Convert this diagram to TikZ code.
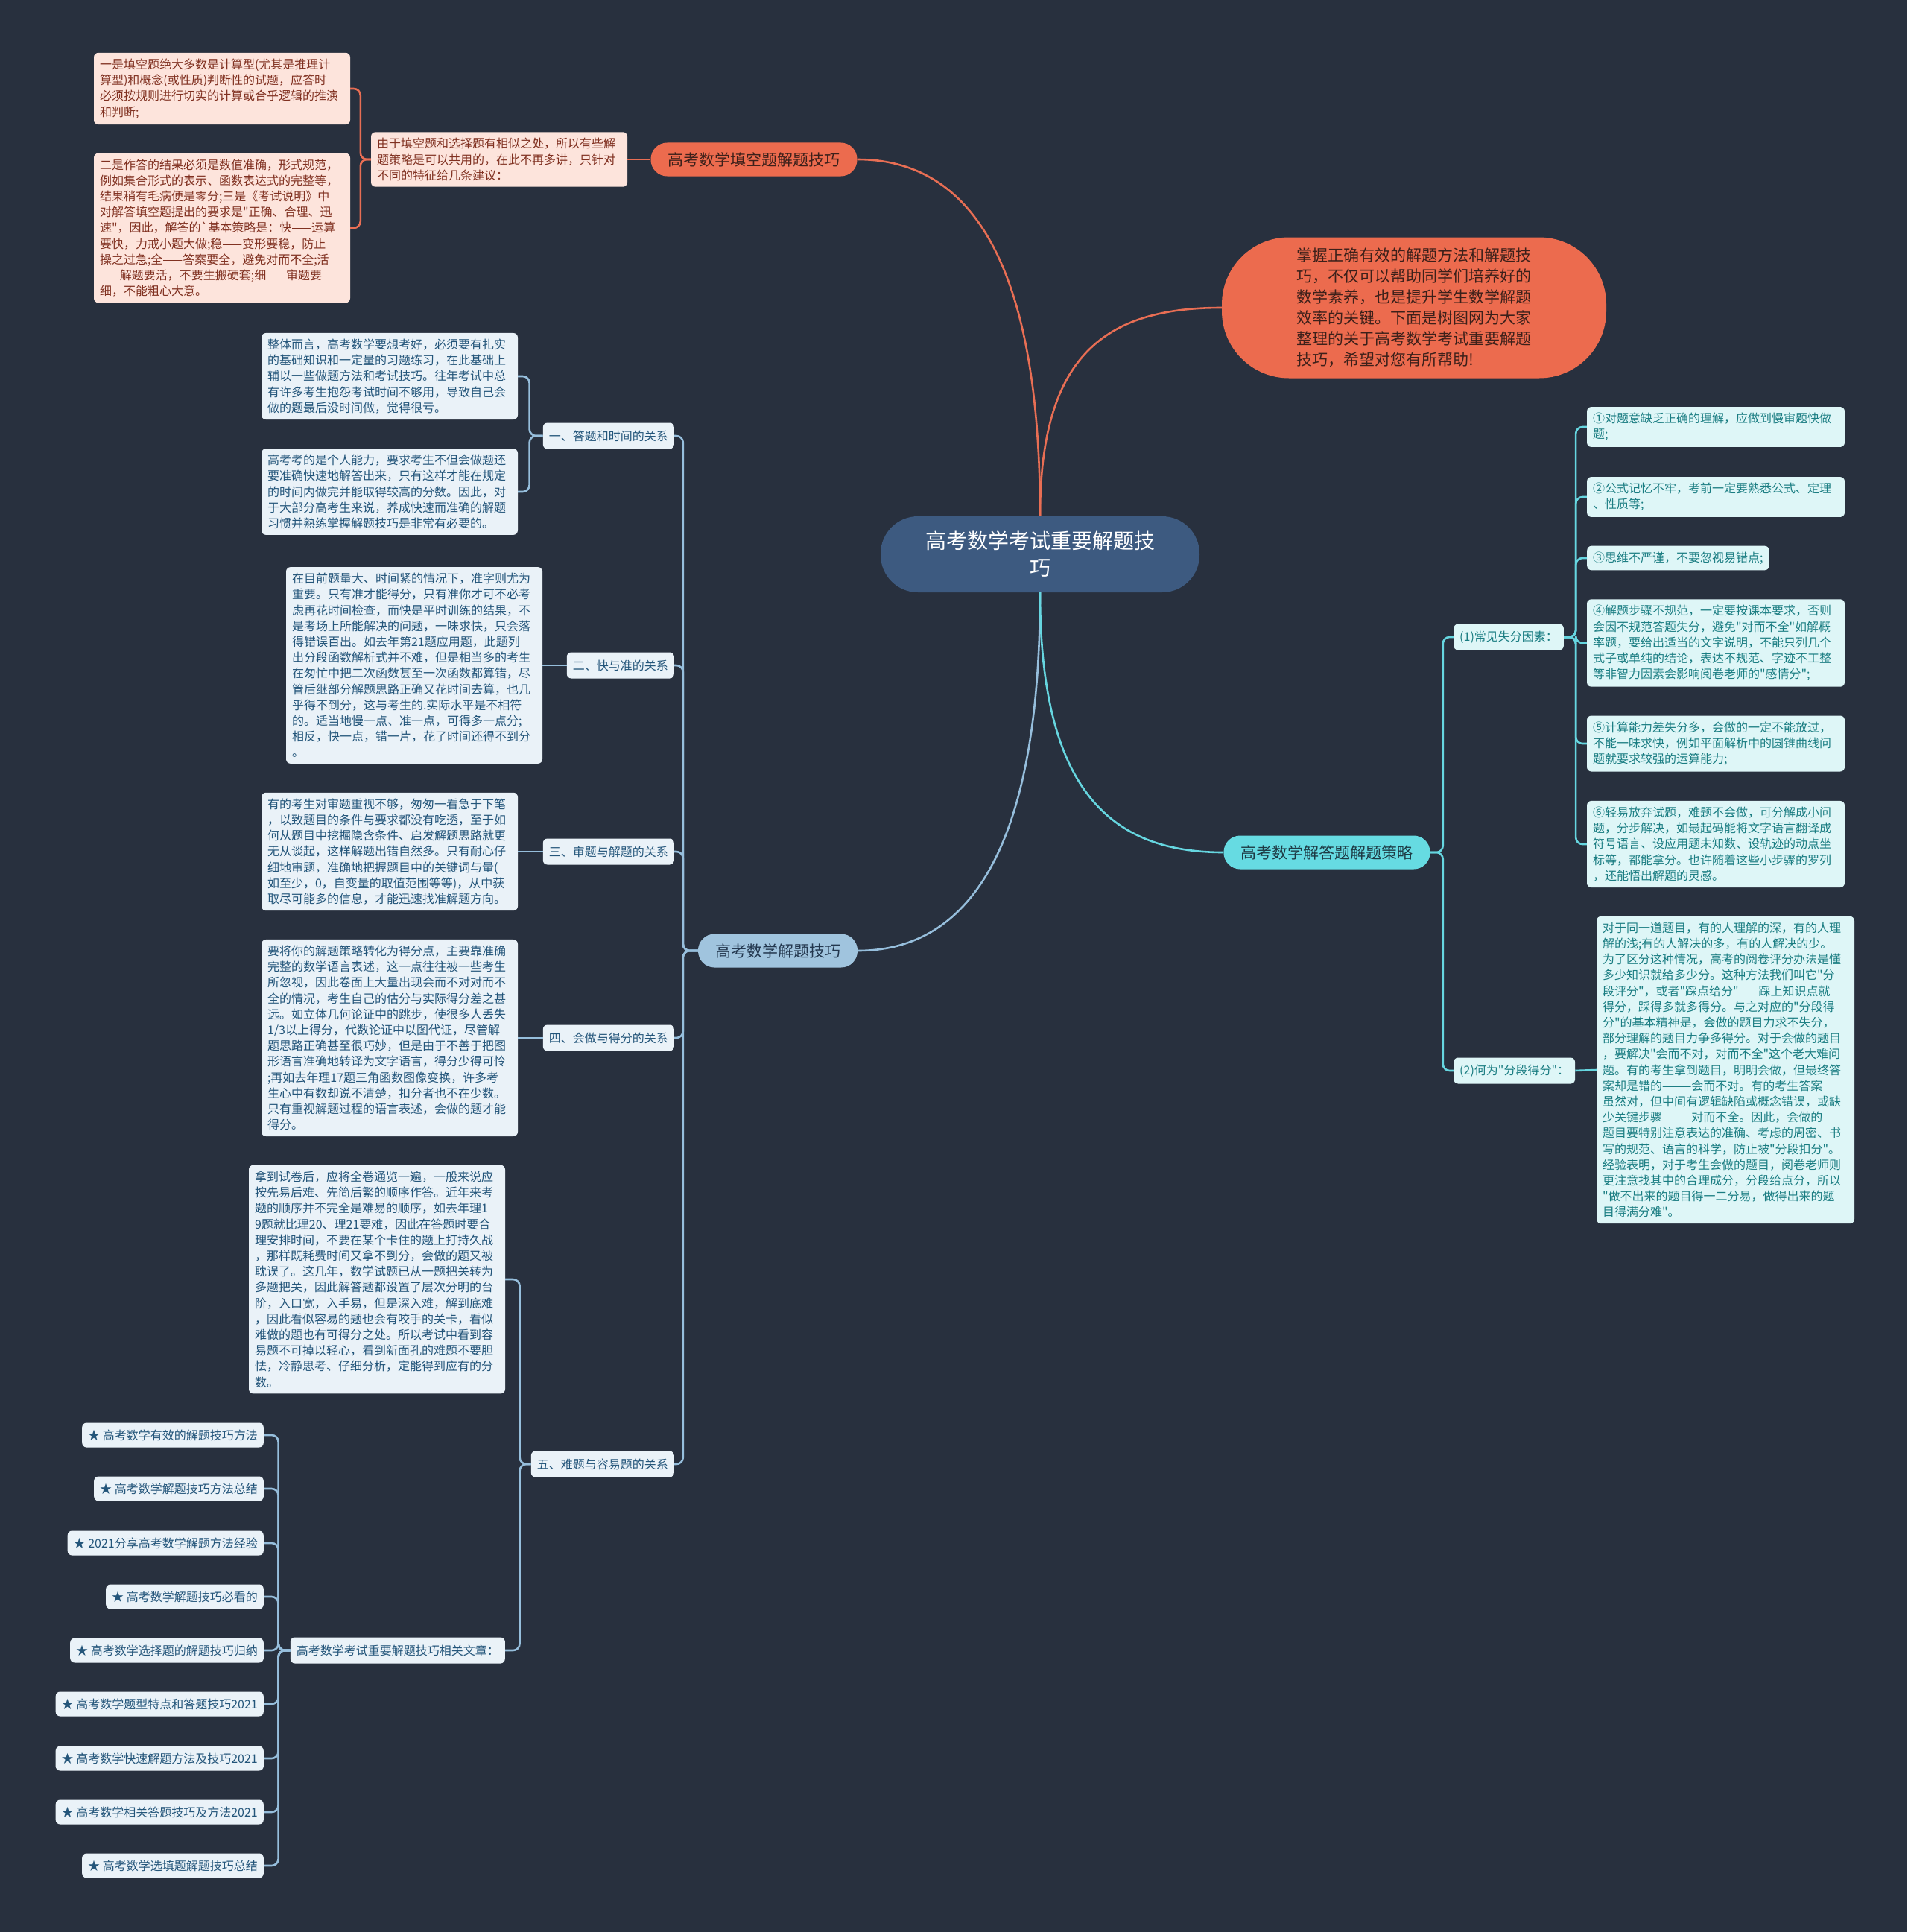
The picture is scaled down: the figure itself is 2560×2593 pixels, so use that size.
\documentclass[tikz,border=0pt]{standalone}
\usepackage{fontspec}
\setmainfont{Noto Sans CJK SC}[Ligatures=TeXOff]
\hyphenpenalty=10000
\exhyphenpenalty=10000
\definecolor{bg}{RGB}{40,48,62}
\definecolor{centerfill}{RGB}{61,90,128}
\definecolor{orangefill}{RGB}{236,107,78}
\definecolor{orangetext}{RGB}{60,32,26}
\definecolor{orangeline}{RGB}{232,110,84}
\definecolor{pinkfill}{RGB}{253,228,220}
\definecolor{pinktext}{RGB}{128,48,32}
\definecolor{bluefill}{RGB}{160,196,222}
\definecolor{bluetitle}{RGB}{35,55,78}
\definecolor{boxblue}{RGB}{234,242,248}
\definecolor{bluetext}{RGB}{35,85,122}
\definecolor{blueline}{RGB}{150,190,220}
\definecolor{cyanfill}{RGB}{102,219,226}
\definecolor{cyantitle}{RGB}{30,58,68}
\definecolor{boxcyan}{RGB}{222,246,247}
\definecolor{cyantext}{RGB}{26,125,130}
\definecolor{cyanline}{RGB}{102,214,224}
\tikzset{
  small/.style={font=\fontsize{16pt}{21.2pt}\selectfont},
  textbox/.style={small, rounded corners=6pt, inner ysep=8pt, inner xsep=8pt, align=left},
  pinkbox/.style={textbox, fill=pinkfill, text=pinktext, text width=328pt},
  bluebox/.style={textbox, fill=boxblue, text=bluetext, text width=328pt},
  cyanbox/.style={textbox, fill=boxcyan, text=cyantext, text width=330pt},
  bluelab/.style={small, rounded corners=6pt, fill=boxblue, text=bluetext, inner xsep=8pt, minimum height=35pt},
  cyanlab/.style={small, rounded corners=6pt, fill=boxcyan, text=cyantext, inner xsep=8pt, minimum height=35pt},
  starlab/.style={font=\fontsize{16pt}{20pt}\selectfont, rounded corners=6pt, fill=boxblue, text=bluetext, inner xsep=8pt, minimum height=33pt},
  pill/.style={font=\fontsize{21pt}{26pt}\selectfont, rounded corners=22pt, minimum height=45pt, inner xsep=23pt},
  oline/.style={draw=orangeline, line width=2.6pt},
  bline/.style={draw=blueline, line width=2.6pt},
  cline/.style={draw=cyanline, line width=2.6pt},
}
\begin{document}
\begin{tikzpicture}[x=1pt,y=-1pt]
\fill[bg] (0,0) rectangle (2560,2593);
\useasboundingbox (0,0) rectangle (2560,2593);

% center
\node[fill=centerfill, text=white, font=\fontsize{28pt}{36pt}\selectfont, text width=308pt, align=center,
      minimum height=102pt, inner xsep=60pt, rounded corners=50pt] (center) at (1396,744)
      {高考数学考试重要解题技\\巧};

% ---------- orange branch ----------
\node[pill, fill=orangefill, text=orangetext] (tk) at (1012,214) {高考数学填空题解题技巧};
\node[fill=orangefill, text=orangetext, font=\fontsize{21pt}{28pt}\selectfont, text width=316pt, align=left,
      minimum height=189pt, inner xsep=100pt, rounded corners=90pt] (intro) at (1898,413)
{掌握正确有效的解题方法和解题技\\
巧，不仅可以帮助同学们培养好的\\
数学素养，也是提升学生数学解题\\
效率的关键。下面是树图网为大家\\
整理的关于高考数学考试重要解题\\
技巧，希望对您有所帮助!};

\node[pinkbox] (a0) at (670,214)
{由于填空题和选择题有相似之处，所以有些解\\
题策略是可以共用的，在此不再多讲，只针对\\
不同的特征给几条建议：};
\node[pinkbox] (a1) at (298,119)
{一是填空题绝大多数是计算型(尤其是推理计\\
算型)和概念(或性质)判断性的试题，应答时\\
必须按规则进行切实的计算或合乎逻辑的推演\\
和判断;};
\node[pinkbox] (a2) at (298,306)
{二是作答的结果必须是数值准确，形式规范，\\
例如集合形式的表示、函数表达式的完整等，\\
结果稍有毛病便是零分;三是《考试说明》中\\
对解答填空题提出的要求是"正确、合理、迅\\
速"，因此，解答的\symbol{96}基本策略是：快——运算\\
要快，力戒小题大做;稳——变形要稳，防止\\
操之过急;全——答案要全，避免对而不全;活\\
——解题要活，不要生搬硬套;细——审题要\\
细，不能粗心大意。};

\draw[oline] (center.north) .. controls (1396,330) and (1290,214) .. (tk.east);
\draw[oline] (center.north) .. controls (1396,480) and (1480,413) .. (intro.west);
\draw[oline] (tk.west) -- (a0.east);
\draw[oline, rounded corners=9pt] (a0.west) -- ++(-14,0) |- (a1.east);
\draw[oline, rounded corners=9pt] (a0.west) -- ++(-14,0) |- (a2.east);

% ---------- blue branch ----------
\node[pill, fill=bluefill, text=bluetitle] (jt) at (1044,1276) {高考数学解题技巧};
\node[bluelab, anchor=east] (l1) at (905,585) {一、答题和时间的关系};
\node[bluelab, anchor=east] (l2) at (905,893) {二、快与准的关系};
\node[bluelab, anchor=east] (l3) at (905,1143) {三、审题与解题的关系};
\node[bluelab, anchor=east] (l4) at (905,1393) {四、会做与得分的关系};
\node[bluelab, anchor=east] (l5) at (905,1965) {五、难题与容易题的关系};

\node[bluebox] (b1a) at (523,505)
{整体而言，高考数学要想考好，必须要有扎实\\
的基础知识和一定量的习题练习，在此基础上\\
辅以一些做题方法和考试技巧。往年考试中总\\
有许多考生抱怨考试时间不够用，导致自己会\\
做的题最后没时间做，觉得很亏。};
\node[bluebox] (b1b) at (523,660)
{高考考的是个人能力，要求考生不但会做题还\\
要准确快速地解答出来，只有这样才能在规定\\
的时间内做完并能取得较高的分数。因此，对\\
于大部分高考生来说，养成快速而准确的解题\\
习惯并熟练掌握解题技巧是非常有必要的。};
\node[bluebox] (b2) at (556,893)
{在目前题量大、时间紧的情况下，准字则尤为\\
重要。只有准才能得分，只有准你才可不必考\\
虑再花时间检查，而快是平时训练的结果，不\\
是考场上所能解决的问题，一味求快，只会落\\
得错误百出。如去年第21题应用题，此题列\\
出分段函数解析式并不难，但是相当多的考生\\
在匆忙中把二次函数甚至一次函数都算错，尽\\
管后继部分解题思路正确又花时间去算，也几\\
乎得不到分，这与考生的.实际水平是不相符\\
的。适当地慢一点、准一点，可得多一点分;\\
相反，快一点，错一片，花了时间还得不到分\\
。};
\node[bluebox] (b3) at (523,1143)
{有的考生对审题重视不够，匆匆一看急于下笔\\
，以致题目的条件与要求都没有吃透，至于如\\
何从题目中挖掘隐含条件、启发解题思路就更\\
无从谈起，这样解题出错自然多。只有耐心仔\\
细地审题，准确地把握题目中的关键词与量(\\
如至少，0，自变量的取值范围等等)，从中获\\
取尽可能多的信息，才能迅速找准解题方向。};
\node[bluebox] (b4) at (523,1393)
{要将你的解题策略转化为得分点，主要靠准确\\
完整的数学语言表述，这一点往往被一些考生\\
所忽视，因此卷面上大量出现会而不对对而不\\
全的情况，考生自己的估分与实际得分差之甚\\
远。如立体几何论证中的跳步，使很多人丢失\\
1/3以上得分，代数论证中以图代证，尽管解\\
题思路正确甚至很巧妙，但是由于不善于把图\\
形语言准确地转译为文字语言，得分少得可怜\\
;再如去年理17题三角函数图像变换，许多考\\
生心中有数却说不清楚，扣分者也不在少数。\\
只有重视解题过程的语言表述，会做的题才能\\
得分。};
\node[bluebox] (b5) at (506,1717)
{拿到试卷后，应将全卷通览一遍，一般来说应\\
按先易后难、先简后繁的顺序作答。近年来考\\
题的顺序并不完全是难易的顺序，如去年理1\\
9题就比理20、理21要难，因此在答题时要合\\
理安排时间，不要在某个卡住的题上打持久战\\
，那样既耗费时间又拿不到分，会做的题又被\\
耽误了。这几年，数学试题已从一题把关转为\\
多题把关，因此解答题都设置了层次分明的台\\
阶，入口宽，入手易，但是深入难，解到底难\\
，因此看似容易的题也会有咬手的关卡，看似\\
难做的题也有可得分之处。所以考试中看到容\\
易题不可掉以轻心，看到新面孔的难题不要胆\\
怯，冷静思考、仔细分析，定能得到应有的分\\
数。};
\node[bluelab, anchor=east] (r0) at (678,2215) {高考数学考试重要解题技巧相关文章：};

\node[starlab, anchor=east] (s1) at (354,1926) {★ 高考数学有效的解题技巧方法};
\node[starlab, anchor=east] (s2) at (354,1998) {★ 高考数学解题技巧方法总结};
\node[starlab, anchor=east] (s3) at (354,2071) {★ 2021分享高考数学解题方法经验};
\node[starlab, anchor=east] (s4) at (354,2143) {★ 高考数学解题技巧必看的};
\node[starlab, anchor=east] (s5) at (354,2215) {★ 高考数学选择题的解题技巧归纳};
\node[starlab, anchor=east] (s6) at (354,2287) {★ 高考数学题型特点和答题技巧2021};
\node[starlab, anchor=east] (s7) at (354,2360) {★ 高考数学快速解题方法及技巧2021};
\node[starlab, anchor=east] (s8) at (354,2432) {★ 高考数学相关答题技巧及方法2021};
\node[starlab, anchor=east] (s9) at (354,2504) {★ 高考数学选填题解题技巧总结};

\draw[bline] (center.south) .. controls (1396,1140) and (1300,1276) .. (jt.east);
\foreach \n in {l1,l2,l3,l4,l5}
  \draw[bline, rounded corners=9pt] (jt.west) -- ++(-20,0) |- (\n.east);
\draw[bline, rounded corners=9pt] (l1.west) -- ++(-18,0) |- (b1a.east);
\draw[bline, rounded corners=9pt] (l1.west) -- ++(-18,0) |- (b1b.east);
\draw[bline] (l2.west) -- (b2.east);
\draw[bline] (l3.west) -- (b3.east);
\draw[bline] (l4.west) -- (b4.east);
\draw[bline, rounded corners=9pt] (l5.west) -- ++(-15,0) |- (b5.east);
\draw[bline, rounded corners=9pt] (l5.west) -- ++(-15,0) |- (r0.east);
\foreach \n in {s1,s2,s3,s4,s5,s6,s7,s8,s9}
  \draw[bline, rounded corners=9pt] (r0.west) -- ++(-16,0) |- (\n.east);

% ---------- cyan branch ----------
\node[pill, fill=cyanfill, text=cyantitle] (cl) at (1781,1144) {高考数学解答题解题策略};
\node[cyanlab, anchor=west] (c1) at (1951,855) {(1)常见失分因素：};
\node[cyanlab, anchor=west] (c2) at (1951,1437) {(2)何为"分段得分"：};

\node[cyanbox] (d1) at (2303,573)
{①对题意缺乏正确的理解，应做到慢审题快做\\
题;};
\node[cyanbox] (d2) at (2303,667)
{②公式记忆不牢，考前一定要熟悉公式、定理\\
、性质等;};
\node[cyanbox, text width=, anchor=west] (d3) at (2130,749)
{③思维不严谨，不要忽视易错点;};
\node[cyanbox] (d4) at (2303,863)
{④解题步骤不规范，一定要按课本要求，否则\\
会因不规范答题失分，避免"对而不全"如解概\\
率题，要给出适当的文字说明，不能只列几个\\
式子或单纯的结论，表达不规范、字迹不工整\\
等非智力因素会影响阅卷老师的"感情分";};
\node[cyanbox] (d5) at (2303,998)
{⑤计算能力差失分多，会做的一定不能放过，\\
不能一味求快，例如平面解析中的圆锥曲线问\\
题就要求较强的运算能力;};
\node[cyanbox] (d6) at (2303,1133)
{⑥轻易放弃试题，难题不会做，可分解成小问\\
题，分步解决，如最起码能将文字语言翻译成\\
符号语言、设应用题未知数、设轨迹的动点坐\\
标等，都能拿分。也许随着这些小步骤的罗列\\
，还能悟出解题的灵感。};
\node[cyanbox] (e) at (2316,1436)
{对于同一道题目，有的人理解的深，有的人理\\
解的浅;有的人解决的多，有的人解决的少。\\
为了区分这种情况，高考的阅卷评分办法是懂\\
多少知识就给多少分。这种方法我们叫它"分\\
段评分"，或者"踩点给分"——踩上知识点就\\
得分，踩得多就多得分。与之对应的"分段得\\
分"的基本精神是，会做的题目力求不失分，\\
部分理解的题目力争多得分。对于会做的题目\\
，要解决"会而不对，对而不全"这个老大难问\\
题。有的考生拿到题目，明明会做，但最终答\\
案却是错的———会而不对。有的考生答案\\
虽然对，但中间有逻辑缺陷或概念错误，或缺\\
少关键步骤———对而不全。因此，会做的\\
题目要特别注意表达的准确、考虑的周密、书\\
写的规范、语言的科学，防止被"分段扣分"。\\
经验表明，对于考生会做的题目，阅卷老师则\\
更注意找其中的合理成分，分段给点分，所以\\
"做不出来的题目得一二分易，做得出来的题\\
目得满分难"。};

\draw[cline] (center.south) .. controls (1396,1060) and (1490,1144) .. (cl.west);
\draw[cline, rounded corners=9pt] (cl.east) -- ++(17,0) |- (c1.west);
\draw[cline, rounded corners=9pt] (cl.east) -- ++(17,0) |- (c2.west);
\foreach \n in {d1,d2,d3,d4,d5,d6}
  \draw[cline, rounded corners=9pt] (c1.east) -- ++(16,0) |- (\n.west);
\draw[cline] (c2.east) -- (e.west);
\end{tikzpicture}
\end{document}
